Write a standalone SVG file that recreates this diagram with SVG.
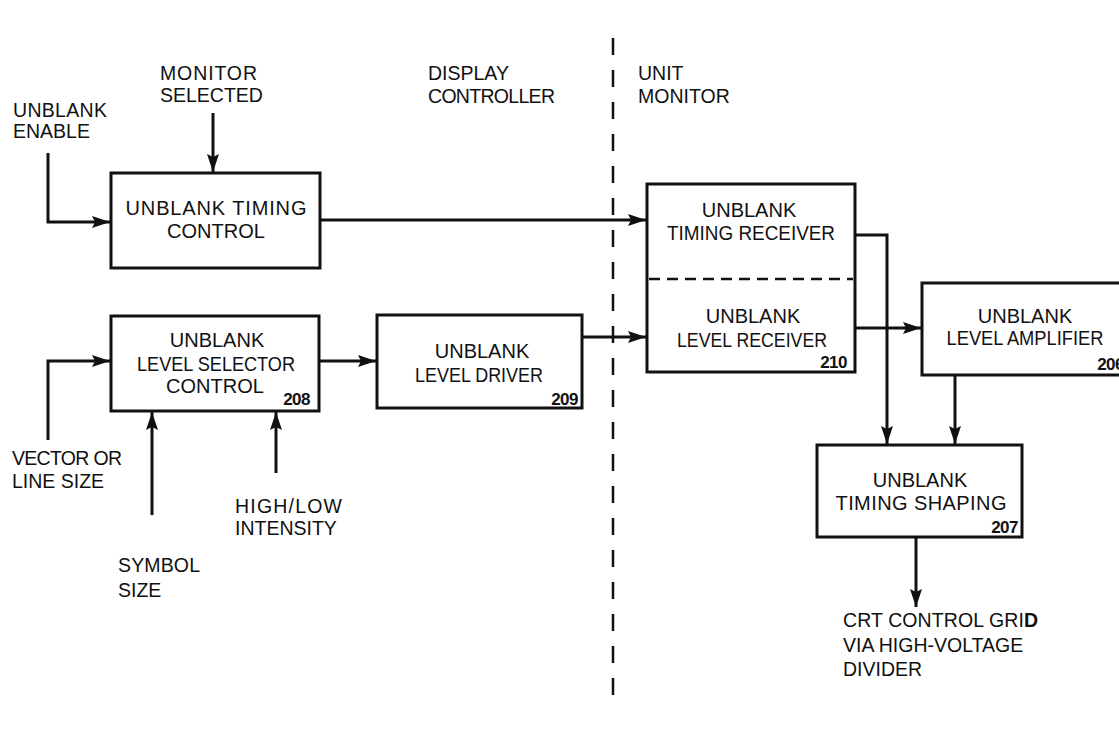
<svg xmlns="http://www.w3.org/2000/svg" width="1119" height="731" viewBox="0 0 1119 731">
<defs>
<marker id="ah" markerUnits="userSpaceOnUse" markerWidth="20" markerHeight="14" refX="18" refY="6" orient="auto">
<path d="M0,0 L18,6 L0,12 L3,6 z" fill="#111"/>
</marker>
<style>
.box{fill:#fff;stroke:#111;stroke-width:3}
.t{font-family:"Liberation Sans",Arial,sans-serif;font-size:20px;fill:#111;text-anchor:middle}
.l{font-family:"Liberation Sans",Arial,sans-serif;font-size:19.5px;fill:#111}
.n{font-family:"Liberation Sans",Arial,sans-serif;font-size:17px;font-weight:bold;fill:#111;text-anchor:end;letter-spacing:-0.5px}
.c{fill:none;stroke:#111;stroke-width:3}
.a{marker-end:url(#ah)}
</style>
</defs>
<rect width="1119" height="731" fill="#fff"/>
<g id="connectors">
<path class="c a" d="M48,153 V222 H110"/>
<path class="c a" d="M213,113 V172"/>
<path class="c a" d="M320,220 H646"/>
<path class="c a" d="M48,440 V361 H110"/>
<path class="c a" d="M152,515 V412"/>
<path class="c a" d="M276,473 V412"/>
<path class="c a" d="M319,361 H376"/>
<path class="c a" d="M582,337 H646"/>
<path class="c a" d="M855,235 H887 V444"/>
<path class="c a" d="M855,328 H921"/>
<path class="c a" d="M955,375 V444"/>
<path class="c a" d="M916,537 V607"/>
</g>
<g id="divider">
<line x1="613" y1="38" x2="613" y2="705" stroke="#111" stroke-width="2.5" stroke-dasharray="17 15"/>
</g>
<g id="labels">
<text class="l" x="13" y="117" textLength="94">UNBLANK</text>
<text class="l" x="13" y="138">ENABLE</text>
<text class="l" x="160" y="80" textLength="97">MONITOR</text>
<text class="l" x="160" y="102">SELECTED</text>
<text class="l" x="428" y="80">DISPLAY</text>
<text class="l" x="428" y="103" textLength="127">CONTROLLER</text>
<text class="l" x="638" y="80">UNIT</text>
<text class="l" x="638" y="103">MONITOR</text>
<text class="l" x="12" y="465" textLength="110">VECTOR OR</text>
<text class="l" x="12" y="488">LINE SIZE</text>
<text class="l" x="235" y="513" textLength="107">HIGH/LOW</text>
<text class="l" x="235" y="535">INTENSITY</text>
<text class="l" x="118" y="572" textLength="82">SYMBOL</text>
<text class="l" x="118" y="597">SIZE</text>
<text class="l" x="843" y="627" textLength="195">CRT CONTROL GRI<tspan font-weight="bold">D</tspan></text>
<text class="l" x="843" y="652">VIA HIGH-VOLTAGE</text>
<text class="l" x="843" y="676">DIVIDER</text>
</g>
<g id="timing-control">
<rect class="box" x="111" y="173" width="209" height="95"/>
<text class="t" x="216" y="215" textLength="181">UNBLANK TIMING</text>
<text class="t" x="216" y="238">CONTROL</text>
</g>
<g id="level-selector-control">
<rect class="box" x="111" y="316" width="208" height="95"/>
<text class="t" x="217" y="347">UNBLANK</text>
<text class="t" x="216" y="371" textLength="158" lengthAdjust="spacingAndGlyphs">LEVEL SELECTOR</text>
<text class="t" x="215" y="393">CONTROL</text>
<text class="n" x="310" y="405">208</text>
</g>
<g id="level-driver">
<rect class="box" x="377" y="315" width="205" height="93"/>
<text class="t" x="482" y="358">UNBLANK</text>
<text class="t" x="479" y="382" textLength="128" lengthAdjust="spacingAndGlyphs">LEVEL DRIVER</text>
<text class="n" x="578" y="405">209</text>
</g>
<g id="receiver">
<rect class="box" x="647" y="184" width="208" height="188"/>
<line x1="649" y1="279" x2="853" y2="279" stroke="#111" stroke-width="2.5" stroke-dasharray="11 7"/>
<text class="t" x="749" y="217">UNBLANK</text>
<text class="t" x="751" y="240" textLength="168" lengthAdjust="spacingAndGlyphs">TIMING RECEIVER</text>
<text class="t" x="753" y="323">UNBLANK</text>
<text class="t" x="752" y="347" textLength="150" lengthAdjust="spacingAndGlyphs">LEVEL RECEIVER</text>
<text class="n" x="847" y="368">210</text>
</g>
<g id="level-amplifier">
<rect class="box" x="922" y="283" width="206" height="92"/>
<text class="t" x="1025" y="323">UNBLANK</text>
<text class="t" x="1025" y="345" textLength="157" lengthAdjust="spacingAndGlyphs">LEVEL AMPLIFIER</text>
<text class="n" x="1124" y="370">206</text>
</g>
<g id="timing-shaping">
<rect class="box" x="817" y="445" width="205" height="92"/>
<text class="t" x="920" y="487">UNBLANK</text>
<text class="t" x="921" y="510" textLength="171">TIMING SHAPING</text>
<text class="n" x="1018" y="533">207</text>
</g>
</svg>
